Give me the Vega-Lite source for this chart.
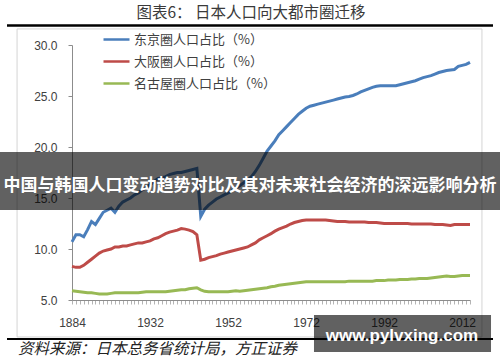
{
  "$schema": "https://vega.github.io/schema/vega-lite/v6.json",
  "width": 398,
  "height": 255,
  "autosize": {"type": "none"},
  "padding": {"left": 72, "top": 45, "right": 30, "bottom": 62},
  "background": "#ffffff",
  "config": {"view": {"stroke": null}, "font": "Liberation Sans"},
  "resolve": {"scale": {"x": "independent", "y": "independent"}},
  "layer": [
    {
      "data": {"values": [{"k": "frame"}]},
      "mark": {"type": "rect", "fill": null, "stroke": "#d4d4d4", "strokeWidth": 1},
      "encoding": {
        "x": {"datum": -0.138, "type": "quantitative", "scale": {"domain": [0, 1]}, "axis": null},
        "x2": {"datum": 1.030},
        "y": {"datum": 1.063, "type": "quantitative", "scale": {"domain": [0, 1]}, "axis": null},
        "y2": {"datum": -0.145}
      }
    },
    {
      "data": {"values": [{"k": "top"}]},
      "mark": {"type": "rule", "stroke": "#000000", "strokeWidth": 2.5},
      "encoding": {
        "x": {"datum": -0.1633, "type": "quantitative", "scale": {"domain": [0, 1]}, "axis": null},
        "x2": {"datum": 1.0578},
        "y": {"datum": 1.0765, "type": "quantitative", "scale": {"domain": [0, 1]}, "axis": null}
      }
    },
    {
      "data": {"values": [{"k": "bottom"}]},
      "mark": {"type": "rule", "stroke": "#000000", "strokeWidth": 2},
      "encoding": {
        "x": {"datum": -0.1633, "type": "quantitative", "scale": {"domain": [0, 1]}, "axis": null},
        "x2": {"datum": 1.0578},
        "y": {"datum": -0.153, "type": "quantitative", "scale": {"domain": [0, 1]}, "axis": null}
      }
    },
    {
      "data": {"values": [
        {"year":"1884","tokyo":10.7,"osaka":8.3,"nagoya":5.9},
        {"year":"1886","tokyo":11.4,"osaka":8.2,"nagoya":5.85},
        {"year":"1888","tokyo":11.4,"osaka":8.2,"nagoya":5.8},
        {"year":"1890","tokyo":11.2,"osaka":8.4,"nagoya":5.75},
        {"year":"1893","tokyo":11.9,"osaka":8.7,"nagoya":5.7},
        {"year":"1898","tokyo":12.7,"osaka":9.0,"nagoya":5.7},
        {"year":"1903","tokyo":12.4,"osaka":9.3,"nagoya":5.65},
        {"year":"1908","tokyo":13.0,"osaka":9.6,"nagoya":5.6},
        {"year":"1913","tokyo":13.6,"osaka":9.8,"nagoya":5.6},
        {"year":"1918","tokyo":13.8,"osaka":9.9,"nagoya":5.6},
        {"year":"1920","tokyo":14.0,"osaka":10.0,"nagoya":5.65},
        {"year":"1921","tokyo":13.6,"osaka":10.2,"nagoya":5.7},
        {"year":"1922","tokyo":14.2,"osaka":10.2,"nagoya":5.7},
        {"year":"1923","tokyo":14.6,"osaka":10.3,"nagoya":5.7},
        {"year":"1924","tokyo":14.8,"osaka":10.3,"nagoya":5.7},
        {"year":"1925","tokyo":15.0,"osaka":10.4,"nagoya":5.7},
        {"year":"1926","tokyo":15.3,"osaka":10.5,"nagoya":5.7},
        {"year":"1927","tokyo":15.5,"osaka":10.6,"nagoya":5.7},
        {"year":"1928","tokyo":15.8,"osaka":10.6,"nagoya":5.75},
        {"year":"1930","tokyo":16.0,"osaka":10.7,"nagoya":5.8},
        {"year":"1932","tokyo":16.3,"osaka":10.8,"nagoya":5.8},
        {"year":"1933","tokyo":16.6,"osaka":11.0,"nagoya":5.8},
        {"year":"1934","tokyo":16.9,"osaka":11.1,"nagoya":5.8},
        {"year":"1935","tokyo":17.0,"osaka":11.3,"nagoya":5.8},
        {"year":"1936","tokyo":17.1,"osaka":11.5,"nagoya":5.8},
        {"year":"1937","tokyo":17.3,"osaka":11.65,"nagoya":5.85},
        {"year":"1938","tokyo":17.4,"osaka":11.75,"nagoya":5.9},
        {"year":"1939","tokyo":17.5,"osaka":11.85,"nagoya":5.95},
        {"year":"1940","tokyo":17.5,"osaka":12.0,"nagoya":6.0},
        {"year":"1941","tokyo":17.6,"osaka":11.95,"nagoya":6.0},
        {"year":"1942","tokyo":17.7,"osaka":11.85,"nagoya":6.1},
        {"year":"1943","tokyo":17.8,"osaka":11.7,"nagoya":6.15},
        {"year":"1944","tokyo":17.9,"osaka":11.4,"nagoya":6.2},
        {"year":"1945","tokyo":13.2,"osaka":8.9,"nagoya":6.0},
        {"year":"1946","tokyo":13.9,"osaka":9.0,"nagoya":5.85},
        {"year":"1947","tokyo":14.3,"osaka":9.15,"nagoya":5.8},
        {"year":"1948","tokyo":14.6,"osaka":9.25,"nagoya":5.8},
        {"year":"1949","tokyo":14.9,"osaka":9.35,"nagoya":5.8},
        {"year":"1950","tokyo":15.1,"osaka":9.5,"nagoya":5.8},
        {"year":"1951","tokyo":15.3,"osaka":9.6,"nagoya":5.8},
        {"year":"1952","tokyo":15.5,"osaka":9.7,"nagoya":5.8},
        {"year":"1953","tokyo":15.7,"osaka":9.8,"nagoya":5.85},
        {"year":"1954","tokyo":16.0,"osaka":9.9,"nagoya":5.9},
        {"year":"1955","tokyo":16.2,"osaka":10.0,"nagoya":5.85},
        {"year":"1956","tokyo":16.5,"osaka":10.1,"nagoya":5.9},
        {"year":"1957","tokyo":16.7,"osaka":10.2,"nagoya":5.95},
        {"year":"1958","tokyo":17.1,"osaka":10.4,"nagoya":6.0},
        {"year":"1959","tokyo":17.6,"osaka":10.6,"nagoya":6.05},
        {"year":"1960","tokyo":18.2,"osaka":10.9,"nagoya":6.1},
        {"year":"1961","tokyo":18.9,"osaka":11.1,"nagoya":6.15},
        {"year":"1962","tokyo":19.6,"osaka":11.3,"nagoya":6.2},
        {"year":"1963","tokyo":20.1,"osaka":11.5,"nagoya":6.3},
        {"year":"1964","tokyo":20.6,"osaka":11.75,"nagoya":6.35},
        {"year":"1965","tokyo":21.2,"osaka":11.95,"nagoya":6.45},
        {"year":"1966","tokyo":21.6,"osaka":12.1,"nagoya":6.5},
        {"year":"1967","tokyo":22.0,"osaka":12.25,"nagoya":6.55},
        {"year":"1968","tokyo":22.4,"osaka":12.45,"nagoya":6.6},
        {"year":"1969","tokyo":22.8,"osaka":12.6,"nagoya":6.65},
        {"year":"1970","tokyo":23.2,"osaka":12.7,"nagoya":6.7},
        {"year":"1971","tokyo":23.5,"osaka":12.8,"nagoya":6.75},
        {"year":"1972","tokyo":23.8,"osaka":12.85,"nagoya":6.8},
        {"year":"1973","tokyo":24.0,"osaka":12.85,"nagoya":6.8},
        {"year":"1974","tokyo":24.1,"osaka":12.85,"nagoya":6.8},
        {"year":"1975","tokyo":24.2,"osaka":12.85,"nagoya":6.8},
        {"year":"1976","tokyo":24.3,"osaka":12.85,"nagoya":6.8},
        {"year":"1977","tokyo":24.4,"osaka":12.85,"nagoya":6.8},
        {"year":"1978","tokyo":24.5,"osaka":12.8,"nagoya":6.8},
        {"year":"1979","tokyo":24.6,"osaka":12.75,"nagoya":6.8},
        {"year":"1980","tokyo":24.7,"osaka":12.7,"nagoya":6.8},
        {"year":"1981","tokyo":24.8,"osaka":12.7,"nagoya":6.8},
        {"year":"1982","tokyo":24.9,"osaka":12.7,"nagoya":6.8},
        {"year":"1983","tokyo":24.95,"osaka":12.65,"nagoya":6.85},
        {"year":"1984","tokyo":25.05,"osaka":12.65,"nagoya":6.85},
        {"year":"1985","tokyo":25.2,"osaka":12.65,"nagoya":6.85},
        {"year":"1986","tokyo":25.4,"osaka":12.65,"nagoya":6.85},
        {"year":"1987","tokyo":25.55,"osaka":12.65,"nagoya":6.85},
        {"year":"1988","tokyo":25.7,"osaka":12.6,"nagoya":6.85},
        {"year":"1989","tokyo":25.85,"osaka":12.6,"nagoya":6.85},
        {"year":"1990","tokyo":25.95,"osaka":12.6,"nagoya":6.9},
        {"year":"1991","tokyo":26.0,"osaka":12.55,"nagoya":6.9},
        {"year":"1992","tokyo":26.0,"osaka":12.5,"nagoya":6.9},
        {"year":"1993","tokyo":26.0,"osaka":12.5,"nagoya":6.95},
        {"year":"1994","tokyo":26.0,"osaka":12.5,"nagoya":6.95},
        {"year":"1995","tokyo":26.0,"osaka":12.5,"nagoya":6.95},
        {"year":"1996","tokyo":26.1,"osaka":12.5,"nagoya":7.0},
        {"year":"1997","tokyo":26.2,"osaka":12.5,"nagoya":7.0},
        {"year":"1998","tokyo":26.3,"osaka":12.5,"nagoya":7.0},
        {"year":"1999","tokyo":26.4,"osaka":12.45,"nagoya":7.05},
        {"year":"2000","tokyo":26.5,"osaka":12.45,"nagoya":7.05},
        {"year":"2001","tokyo":26.65,"osaka":12.45,"nagoya":7.1},
        {"year":"2002","tokyo":26.8,"osaka":12.45,"nagoya":7.1},
        {"year":"2003","tokyo":26.9,"osaka":12.45,"nagoya":7.1},
        {"year":"2004","tokyo":27.0,"osaka":12.45,"nagoya":7.15},
        {"year":"2005","tokyo":27.15,"osaka":12.4,"nagoya":7.2},
        {"year":"2006","tokyo":27.3,"osaka":12.4,"nagoya":7.25},
        {"year":"2007","tokyo":27.4,"osaka":12.4,"nagoya":7.3},
        {"year":"2008","tokyo":27.5,"osaka":12.35,"nagoya":7.35},
        {"year":"2009","tokyo":27.55,"osaka":12.3,"nagoya":7.3},
        {"year":"2010","tokyo":27.6,"osaka":12.4,"nagoya":7.3},
        {"year":"2011","tokyo":27.9,"osaka":12.4,"nagoya":7.35},
        {"year":"2012","tokyo":28.0,"osaka":12.4,"nagoya":7.4},
        {"year":"2013","tokyo":28.1,"osaka":12.4,"nagoya":7.4},
        {"year":"2014","tokyo":28.3,"osaka":12.4,"nagoya":7.4}
      ]},
      "transform": [{"fold": ["tokyo", "osaka", "nagoya"], "as": ["series", "value"]}],
      "mark": {"type": "line", "strokeWidth": 3},
      "encoding": {
        "x": {
          "field": "year", "type": "ordinal",
          "scale": {"type": "point", "padding": 0},
          "axis": {
            "title": null, "labelAngle": 0, "labelOverlap": false,
            "labelExpr": "(datum.value == '1884' || datum.value == '1932' || datum.value == '1952' || datum.value == '1972' || datum.value == '1992' || datum.value == '2012') ? datum.label : ''",
            "tickSize": 4, "labelPadding": 13, "labelFontSize": 12, "labelColor": "#404040",
            "domainColor": "#8c8c8c", "tickColor": "#b4b4b4"
          }
        },
        "y": {
          "field": "value", "type": "quantitative",
          "scale": {"domain": [5, 30], "nice": false},
          "axis": {
            "title": null, "values": [5, 10, 15, 20, 25, 30], "format": ".1f", "grid": false,
            "tickSize": 4, "labelPadding": 11, "labelFontSize": 12, "labelColor": "#404040",
            "domainColor": "#8c8c8c", "tickColor": "#8c8c8c"
          }
        },
        "color": {
          "field": "series", "type": "nominal",
          "scale": {"domain": ["tokyo", "osaka", "nagoya"], "range": ["#4a7ebb", "#be4b48", "#98b954"]},
          "legend": {
            "orient": "none", "legendX": 30, "legendY": -20, "title": null,
            "symbolType": "stroke", "symbolSize": 676, "symbolStrokeWidth": 2.5,
            "labelFont": "Noto Sans CJK SC", "labelFontSize": 13, "labelColor": "#404040",
            "labelOffset": 3, "rowPadding": -2,
            "labelExpr": "datum.value == 'tokyo' ? '东京圈人口占比（%）' : datum.value == 'osaka' ? '大阪圈人口占比（%）' : '名古屋圈人口占比（%）'"
          }
        }
      }
    },
    {
      "data": {"values": [{"k": "banner"}]},
      "mark": {"type": "rect", "fill": "#000000", "opacity": 0.62},
      "encoding": {
        "x": {"datum": -0.1809, "type": "quantitative", "scale": {"domain": [0, 1]}, "axis": null},
        "x2": {"datum": 1.0754},
        "y": {"datum": 0.5804, "type": "quantitative", "scale": {"domain": [0, 1]}, "axis": null},
        "y2": {"datum": 0.3529}
      }
    },
    {
      "data": {"values": [{"label": "中国与韩国人口变动趋势对比及其对未来社会经济的深远影响分析"}]},
      "mark": {"type": "text", "font": "Noto Sans CJK SC", "fontWeight": "bold", "fontSize": 17, "fill": "#ffffff", "align": "center", "baseline": "middle"},
      "encoding": {
        "x": {"datum": 0.4472, "type": "quantitative", "scale": {"domain": [0, 1]}, "axis": null},
        "y": {"datum": 0.447, "type": "quantitative", "scale": {"domain": [0, 1]}, "axis": null},
        "text": {"field": "label"}
      }
    },
    {
      "data": {"values": [{"k": "wm"}]},
      "mark": {"type": "rect", "fill": "#000000", "opacity": 0.62},
      "encoding": {
        "x": {"datum": 0.608, "type": "quantitative", "scale": {"domain": [0, 1]}, "axis": null},
        "x2": {"datum": 1.0528},
        "y": {"datum": -0.0588, "type": "quantitative", "scale": {"domain": [0, 1]}, "axis": null},
        "y2": {"datum": -0.2039}
      }
    },
    {
      "data": {"values": [{"label": "www.pylvxing.com"}]},
      "mark": {"type": "text", "font": "Liberation Sans", "fontWeight": "bold", "fontSize": 17, "fill": "#ffffff", "align": "center", "baseline": "middle"},
      "encoding": {
        "x": {"datum": 0.829, "type": "quantitative", "scale": {"domain": [0, 1]}, "axis": null},
        "y": {"datum": -0.141, "type": "quantitative", "scale": {"domain": [0, 1]}, "axis": null},
        "text": {"field": "label"}
      }
    },
    {
      "data": {"values": [{"label": "图表6：  日本人口向大都市圈迁移"}]},
      "mark": {"type": "text", "font": "Noto Sans CJK SC", "fontSize": 15.5, "fill": "#3a3a3a", "align": "center", "baseline": "middle"},
      "encoding": {
        "x": {"datum": 0.4497, "type": "quantitative", "scale": {"domain": [0, 1]}, "axis": null},
        "y": {"datum": 1.1255, "type": "quantitative", "scale": {"domain": [0, 1]}, "axis": null},
        "text": {"field": "label"}
      }
    },
    {
      "data": {"values": [{"label": "资料来源：日本总务省统计局，方正证券"}]},
      "mark": {"type": "text", "font": "Noto Sans CJK SC", "fontSize": 15.5, "fontStyle": "italic", "fill": "#222222", "align": "left", "baseline": "middle"},
      "encoding": {
        "x": {"datum": -0.1357, "type": "quantitative", "scale": {"domain": [0, 1]}, "axis": null},
        "y": {"datum": -0.192, "type": "quantitative", "scale": {"domain": [0, 1]}, "axis": null},
        "text": {"field": "label"}
      }
    }
  ]
}
